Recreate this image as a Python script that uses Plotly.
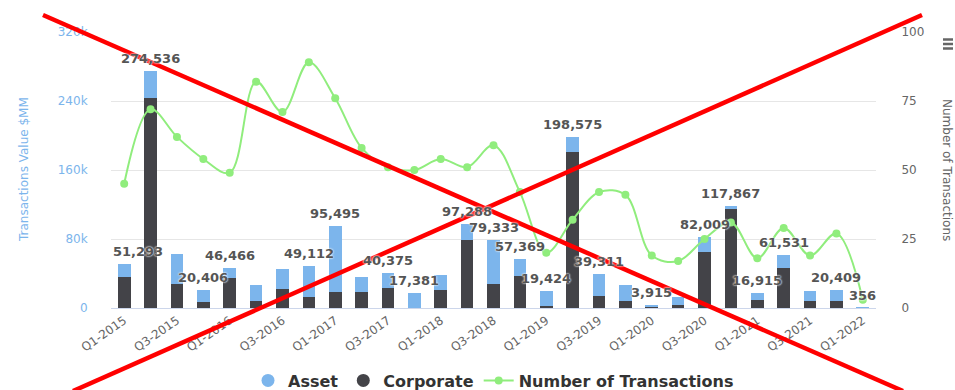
import plotly.graph_objects as go

# ---- data -------------------------------------------------------------
quarters = [
    "Q1-2015", "Q2-2015", "Q3-2015", "Q4-2015",
    "Q1-2016", "Q2-2016", "Q3-2016", "Q4-2016",
    "Q1-2017", "Q2-2017", "Q3-2017", "Q4-2017",
    "Q1-2018", "Q2-2018", "Q3-2018", "Q4-2018",
    "Q1-2019", "Q2-2019", "Q3-2019", "Q4-2019",
    "Q1-2020", "Q2-2020", "Q3-2020", "Q4-2020",
    "Q1-2021", "Q2-2021", "Q3-2021", "Q4-2021",
    "Q1-2022",
]

# transaction value, $MM
asset = [
    15393, 31036, 34100, 13606,
    11466, 18300, 23300, 36512,
    77095, 17400, 17375, 16981,
    17400, 18688, 51133, 20669,
    17424, 17275, 25911, 17500,
    2715, 8600, 17009, 2867,
    7415, 15231, 10500, 11709,
    356,
]
corporate = [
    35900, 243500, 28200, 6800,
    35000, 7900, 22300, 12600,
    18400, 18400, 23000, 400,
    20400, 78600, 28200, 36700,
    2000, 181300, 13400, 8700,
    1200, 4000, 65000, 115000,
    9500, 46300, 8700, 8700,
    0,
]
# number of deals per quarter
transactions = [
    45, 72, 62, 54,
    49, 82, 71, 89,
    76, 58, 51, 50,
    54, 51, 59, 42,
    20, 32, 42, 41,
    19, 17, 25, 31,
    18, 29, 19, 27,
    3,
]
# which stack totals get a label (others are hidden to avoid overlap)
show_total = [
    1, 1, 0, 1,
    1, 0, 0, 1,
    1, 0, 1, 1,
    0, 1, 1, 1,
    1, 1, 1, 0,
    1, 0, 1, 1,
    1, 1, 0, 1,
    1,
]
left_ticks = [0, 80000, 160000, 240000, 320000]
left_tick_text = ["0", "80k", "160k", "240k", "320k"]
right_ticks = [0, 25, 50, 75, 100]

# ---- styling ----------------------------------------------------------
C_ASSET = "#7cb5ec"
C_CORP = "#434348"
C_LINE = "#90ed7d"
FONT = "DejaVu Sans"

W, H = 955, 390
ML, MR, MT, MB = 111, 79, 32, 82
PW, PH = W - ML - MR, H - MT - MB


def paper(px, py):
    """pixel position in the page -> paper coordinates"""
    return (px - ML) / PW, 1 - (py - MT) / PH


fig = go.Figure()

# stacked columns: corporate at the bottom, asset on top
fig.add_trace(go.Bar(
    x=quarters, y=corporate, name="Corporate", marker_color=C_CORP,
    marker_line_width=0, legendgroup="corp", showlegend=False,
))
fig.add_trace(go.Bar(
    x=quarters, y=asset, name="Asset", marker_color=C_ASSET,
    marker_line_width=0, legendgroup="asset", showlegend=False,
))

# round legend symbols for the column series
fig.add_trace(go.Scatter(
    x=[quarters[0]], y=[None], mode="markers", name="Asset", legendgroup="asset",
    marker=dict(symbol="circle", size=13, color=C_ASSET), hoverinfo="skip",
))
fig.add_trace(go.Scatter(
    x=[quarters[0]], y=[None], mode="markers", name="Corporate", legendgroup="corp",
    marker=dict(symbol="circle", size=13, color=C_CORP), hoverinfo="skip",
))

# deal count on the secondary axis
fig.add_trace(go.Scatter(
    x=quarters, y=transactions, name="Number of Transactions", yaxis="y2",
    mode="lines+markers", line=dict(color=C_LINE, width=2, shape="spline", smoothing=1.0),
    marker=dict(symbol="circle", size=8, color=C_LINE),
))

# stack total labels
annotations = []
for i, q in enumerate(quarters):
    if not show_total[i]:
        continue
    total = asset[i] + corporate[i]
    ann = dict(
        x=q, y=total, xref="x", yref="y", text=f"<b>{total:,}</b>",
        showarrow=False, yanchor="bottom", yshift=3,
        font=dict(family=FONT, size=13, color="#555555",
                  shadow="0px 0px 2px white, 0px 0px 2px white"),
    )
    if i == 0:
        # keep the first label inside the plot area
        ann.update(xanchor="left", xshift=-13)
    annotations.append(ann)

# axis titles
lx, ly = paper(24, 170)
annotations.append(dict(
    x=lx, y=ly, xref="paper", yref="paper", text="Transactions Value $MM",
    textangle=-90, showarrow=False, xanchor="center", yanchor="middle",
    font=dict(family=FONT, size=12, color=C_ASSET),
))
rx, ry = paper(947, 170)
annotations.append(dict(
    x=rx, y=ry, xref="paper", yref="paper", text="Number of Transactions",
    textangle=90, showarrow=False, xanchor="center", yanchor="middle",
    font=dict(family=FONT, size=12, color="#666666"),
))

shapes = []
# menu icon
for yy in (39.5, 44, 48.5):
    x0, y0 = paper(943, yy)
    x1, _ = paper(953, yy)
    shapes.append(dict(type="line", xref="paper", yref="paper", x0=x0, y0=y0,
                       x1=x1, y1=y0, line=dict(color="#666666", width=2.5),
                       layer="above"))
# red cross over the chart
for (ax, ay), (bx, by) in (((43, 15), (903, 391)), ((922, 15), (73, 391))):
    x0, y0 = paper(ax, ay)
    x1, y1 = paper(bx, by)
    shapes.append(dict(type="line", xref="paper", yref="paper", x0=x0, y0=y0,
                       x1=x1, y1=y1, line=dict(color="#ff0000", width=4.5),
                       layer="above"))

fig.update_layout(
    width=W, height=H,
    margin=dict(l=ML, r=MR, t=MT, b=MB, autoexpand=False),
    paper_bgcolor="white", plot_bgcolor="white",
    barmode="stack", bargap=0.52,
    font=dict(family=FONT, color="#666666"),
    xaxis=dict(
        type="category", categoryorder="array", categoryarray=quarters,
        range=[-0.5, len(quarters) - 0.5], automargin=False,
        tickvals=quarters[::2], tickangle=-35,
        tickfont=dict(family=FONT, size=12, color="#666666"),
        showgrid=False, showline=True, linecolor="#ccd6eb", linewidth=1,
        ticks="", fixedrange=True,
    ),
    yaxis=dict(
        range=[0, 320000], tickvals=left_ticks, ticktext=left_tick_text,
        tickfont=dict(family=FONT, size=12, color=C_ASSET), automargin=False,
        showgrid=True, gridcolor="#e6e6e6", zeroline=False,
        ticks="outside", ticklen=20, tickcolor="rgba(0,0,0,0)",
    ),
    yaxis2=dict(
        range=[0, 100], tickvals=right_ticks, overlaying="y", side="right",
        tickfont=dict(family=FONT, size=12, color="#666666"), automargin=False,
        showgrid=False, zeroline=False,
        ticks="outside", ticklen=22, tickcolor="rgba(0,0,0,0)",
    ),
    legend=dict(
        orientation="h", x=0.5, xanchor="center",
        yref="container", y=0.068, yanchor="top",
        font=dict(family=FONT, size=16, color="#333333", weight="bold"),
        bgcolor="rgba(0,0,0,0)",
    ),
    annotations=annotations,
    shapes=shapes,
)

fig.write_html("out.html")
